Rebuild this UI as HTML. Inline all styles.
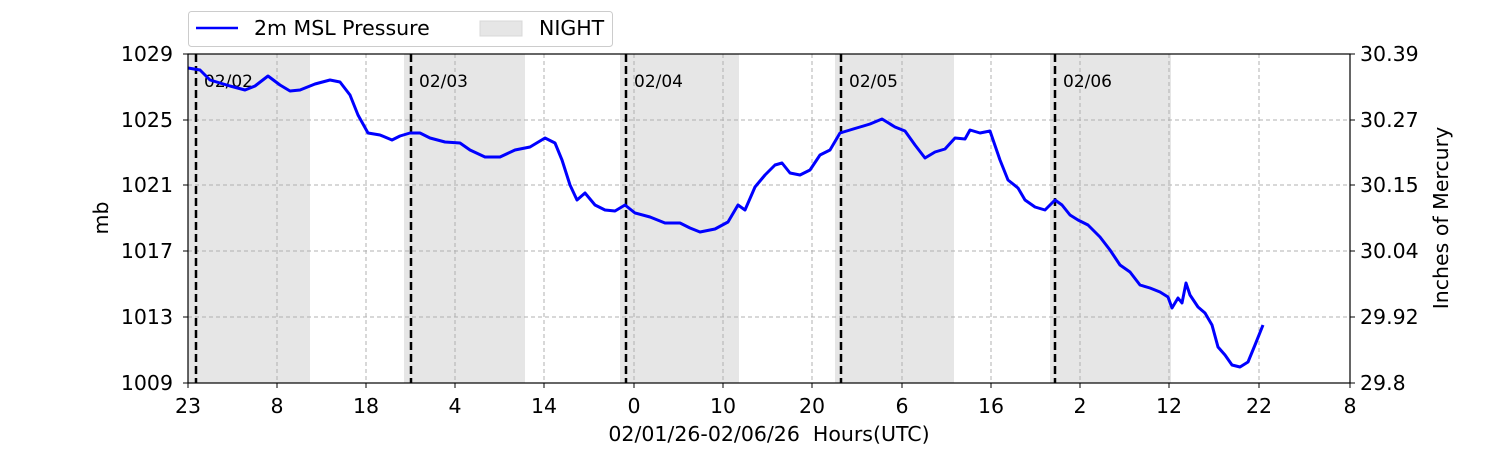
<!DOCTYPE html>
<html><head><meta charset="utf-8"><style>
body{margin:0;background:#fff;width:1500px;height:450px;overflow:hidden}
text{font-family:"DejaVu Sans","Liberation Sans",sans-serif;fill:#000;white-space:pre}
</style></head><body>
<svg width="1500" height="450" viewBox="0 0 1500 450">
<g fill="#e6e6e6">
<rect x="188" y="54" width="122" height="329"/>
<rect x="404" y="54" width="121" height="329"/>
<rect x="620" y="54" width="119" height="329"/>
<rect x="835" y="54" width="119" height="329"/>
<rect x="1050" y="54" width="121" height="329"/>
</g>
<g stroke="#b0b0b0" stroke-dasharray="4,3" stroke-width="1">
<line x1="277" y1="54" x2="277" y2="383"/><line x1="366" y1="54" x2="366" y2="383"/>
<line x1="455" y1="54" x2="455" y2="383"/><line x1="544" y1="54" x2="544" y2="383"/>
<line x1="634" y1="54" x2="634" y2="383"/><line x1="723" y1="54" x2="723" y2="383"/>
<line x1="812" y1="54" x2="812" y2="383"/><line x1="902" y1="54" x2="902" y2="383"/>
<line x1="991" y1="54" x2="991" y2="383"/><line x1="1080" y1="54" x2="1080" y2="383"/>
<line x1="1169" y1="54" x2="1169" y2="383"/><line x1="1259" y1="54" x2="1259" y2="383"/>
<line x1="188" y1="120" x2="1350" y2="120"/><line x1="188" y1="185" x2="1350" y2="185"/>
<line x1="188" y1="251" x2="1350" y2="251"/><line x1="188" y1="317" x2="1350" y2="317"/>
</g>
<g stroke="#000" stroke-width="2.5" stroke-dasharray="8,4">
<line x1="196" y1="54" x2="196" y2="383"/><line x1="411" y1="54" x2="411" y2="383"/>
<line x1="626" y1="54" x2="626" y2="383"/><line x1="841" y1="54" x2="841" y2="383"/>
<line x1="1055" y1="54" x2="1055" y2="383"/>
</g>
<g font-size="17" style="fill:#333">
<text x="204" y="87">02/02</text><text x="419" y="87">02/03</text><text x="634" y="87">02/04</text>
<text x="849" y="87">02/05</text><text x="1063" y="87">02/06</text>
</g>
<polyline fill="none" stroke="#0000ff" stroke-width="3" stroke-linejoin="round" points="188,68 200,70 210,80 230,86 245,90 255,86 268,76 280,85 290,91 300,90 315,84 330,80 340,82 350,95 358,115 368,133 380,135 392,140 400,136 410,133 420,133 430,138 445,142 460,143 470,150 485,157 500,157 515,150 530,147 545,138 555,143 562,160 570,185 577,200 585,193 595,205 605,210 615,211 625,205 635,213 650,217 665,223 680,223 690,228 700,232 715,229 728,222 738,205 745,210 755,187 765,175 775,165 782,163 790,173 800,175 810,170 820,155 830,150 840,133 850,130 860,127 870,124 882,119 895,127 905,131 915,145 925,158 935,152 945,149 955,138 965,139 970,130 980,133 990,131 1000,160 1008,180 1018,188 1025,200 1035,207 1045,210 1055,200 1062,205 1070,215 1078,220 1088,225 1100,237 1110,250 1120,265 1130,272 1140,285 1150,288 1160,292 1168,297 1172,308 1178,298 1182,303 1186,283 1190,295 1198,307 1205,313 1212,325 1218,347 1225,355 1232,365 1240,367 1248,362 1255,345 1263,325"/>
<rect x="188" y="54" width="1162" height="329" fill="none" stroke="#000" stroke-width="1.2"/>
<g stroke="#000" stroke-width="1">
<line x1="188" y1="383" x2="188" y2="388"/><line x1="277" y1="383" x2="277" y2="388"/><line x1="366" y1="383" x2="366" y2="388"/>
<line x1="455" y1="383" x2="455" y2="388"/><line x1="544" y1="383" x2="544" y2="388"/><line x1="634" y1="383" x2="634" y2="388"/>
<line x1="723" y1="383" x2="723" y2="388"/><line x1="812" y1="383" x2="812" y2="388"/><line x1="902" y1="383" x2="902" y2="388"/>
<line x1="991" y1="383" x2="991" y2="388"/><line x1="1080" y1="383" x2="1080" y2="388"/><line x1="1169" y1="383" x2="1169" y2="388"/>
<line x1="1259" y1="383" x2="1259" y2="388"/><line x1="1350" y1="383" x2="1350" y2="388"/>
<line x1="183" y1="54" x2="188" y2="54"/><line x1="183" y1="120" x2="188" y2="120"/><line x1="183" y1="185" x2="188" y2="185"/>
<line x1="183" y1="251" x2="188" y2="251"/><line x1="183" y1="317" x2="188" y2="317"/><line x1="183" y1="383" x2="188" y2="383"/>
<line x1="1350" y1="54" x2="1355" y2="54"/><line x1="1350" y1="120" x2="1355" y2="120"/><line x1="1350" y1="185" x2="1355" y2="185"/>
<line x1="1350" y1="251" x2="1355" y2="251"/><line x1="1350" y1="317" x2="1355" y2="317"/><line x1="1350" y1="383" x2="1355" y2="383"/>
</g>
<g font-size="20.5" text-anchor="middle">
<text x="188" y="413">23</text><text x="277" y="413">8</text><text x="366" y="413">18</text><text x="455" y="413">4</text>
<text x="544" y="413">14</text><text x="634" y="413">0</text><text x="723" y="413">10</text><text x="812" y="413">20</text>
<text x="902" y="413">6</text><text x="991" y="413">16</text><text x="1080" y="413">2</text><text x="1169" y="413">12</text>
<text x="1259" y="413">22</text><text x="1350" y="413">8</text>
<text x="769" y="441">02/01/26-02/06/26  Hours(UTC)</text>
</g>
<g font-size="20.5" text-anchor="end">
<text x="173" y="61">1029</text><text x="173" y="127">1025</text><text x="173" y="192">1021</text>
<text x="173" y="258">1017</text><text x="173" y="324">1013</text><text x="173" y="390">1009</text>
</g>
<g font-size="20.5">
<text x="1360" y="61">30.39</text><text x="1360" y="127">30.27</text><text x="1360" y="192">30.15</text>
<text x="1360" y="258">30.04</text><text x="1360" y="324">29.92</text><text x="1360" y="390">29.8</text>
</g>
<text font-size="20.5" transform="translate(108,218) rotate(-90)" text-anchor="middle">mb</text>
<text font-size="20.5" transform="translate(1448,218) rotate(-90)" text-anchor="middle">Inches of Mercury</text>
<rect x="188.5" y="11.5" width="424" height="35" rx="3" fill="#fff" stroke="#ccc"/>
<line x1="196" y1="28" x2="238" y2="28" stroke="#0000ff" stroke-width="2.5"/>
<text x="254" y="35" font-size="20.5">2m MSL Pressure</text>
<rect x="480" y="21" width="42" height="15" fill="#e6e6e6" stroke="#d8d8d8"/>
<text x="539" y="35" font-size="20.5">NIGHT</text>
</svg>
</body></html>
